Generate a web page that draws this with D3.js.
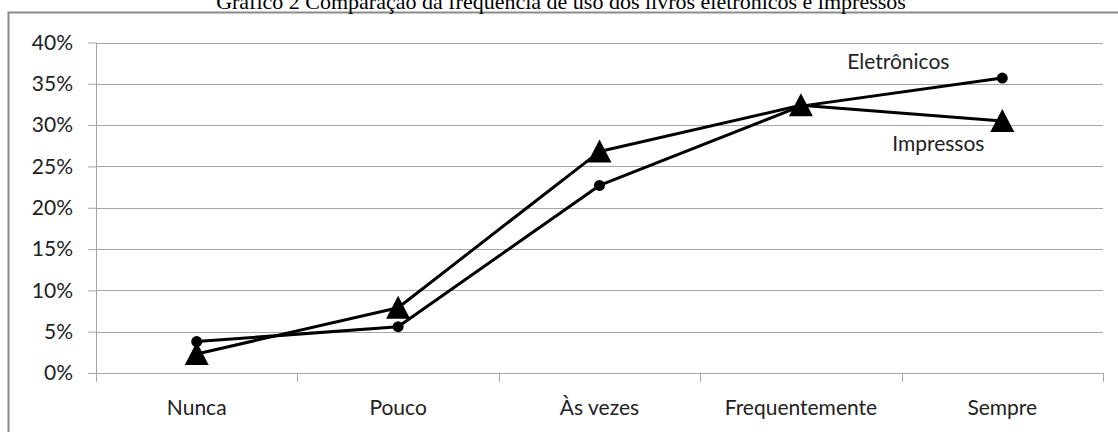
<!DOCTYPE html>
<meta charset="utf-8">
<style>
  body { margin: 0; background: #fff; }
  svg { display: block; }
  text { font-family: Lato, "Open Sans", sans-serif; fill: #222; }
</style>
<svg width="1118" height="432"></svg>
<script src="https://d3js.org/d3.v7.min.js"></script>
<script>

var categories = ["Nunca", "Pouco", "Às vezes", "Frequentemente", "Sempre"];
var eletronicos = [0.038, 0.056, 0.227, 0.323, 0.357];
var impressos = [0.023, 0.079, 0.268, 0.324, 0.305];
var yTicks = [0, 0.05, 0.10, 0.15, 0.20, 0.25, 0.30, 0.35, 0.40];
var title = "Gráfico 2 Comparação da frequência de uso dos livros eletrônicos e impressos";

var svg = d3.select("svg"),
    margin = {top: 42.5, right: 15, bottom: 59, left: 96},
    width = +svg.attr("width"),
    height = +svg.attr("height");

var x = d3.scaleBand()
    .domain(categories)
    .range([margin.left, width - margin.right])
    .padding(0);

var y = d3.scaleLinear()
    .domain([0, 0.4])
    .range([height - margin.bottom, margin.top]);

// outer frame of the chart object
svg.append("rect")
    .attr("x", 8.5)
    .attr("y", 12.5)
    .attr("width", 1130)
    .attr("height", 440)
    .attr("fill", "none")
    .attr("stroke", "#8c8c8c")
    .attr("stroke-width", 2);

svg.append("text")
    .attr("x", 561)
    .attr("y", 9)
    .attr("text-anchor", "middle")
    .style("font-family", "'Liberation Serif', 'Times New Roman', serif")
    .style("font-size", "22px")
    .style("fill", "#000")
    .text(title);

// gridlines + y axis
var yAxis = svg.append("g")
    .attr("transform", "translate(" + margin.left + ",0)")
    .call(d3.axisLeft(y)
      .tickValues(yTicks)
      .tickFormat(d3.format(".0%"))
      .tickSize(8)
      .tickPadding(15));

yAxis.select(".domain").remove();
yAxis.selectAll(".tick line").attr("stroke", "#a6a6a6");
yAxis.selectAll(".tick text")
    .style("font-size", "21px")
    .style("font-family", "Lato, 'Open Sans', sans-serif")
    .attr("fill", "#222");

svg.append("g")
  .selectAll("line")
  .data(yTicks)
  .join("line")
    .attr("x1", margin.left)
    .attr("x2", width - margin.right)
    .attr("y1", function(d) { return Math.round(y(d)) + 0.5; })
    .attr("y2", function(d) { return Math.round(y(d)) + 0.5; })
    .attr("stroke", "#a6a6a6");

svg.append("line")
    .attr("x1", margin.left + 0.5)
    .attr("x2", margin.left + 0.5)
    .attr("y1", y(0.4))
    .attr("y2", y(0) + 9)
    .attr("stroke", "#a6a6a6");

// x axis: ticks sit between categories
var bounds = categories.map(function(c) { return x(c); }).concat([x.range()[1]]);
svg.append("g")
  .selectAll("line")
  .data(bounds)
  .join("line")
    .attr("x1", function(d) { return Math.round(d) + 0.5; })
    .attr("x2", function(d) { return Math.round(d) + 0.5; })
    .attr("y1", y(0))
    .attr("y2", y(0) + 9)
    .attr("stroke", "#a6a6a6");

svg.append("g")
  .selectAll("text")
  .data(categories)
  .join("text")
    .attr("x", function(d) { return x(d) + x.bandwidth() / 2; })
    .attr("y", y(0) + 42)
    .attr("text-anchor", "middle")
    .style("font-size", "21px")
    .text(function(d) { return d; });

var line = d3.line()
    .x(function(d, i) { return x(categories[i]) + x.bandwidth() / 2; })
    .y(function(d) { return y(d); });

[eletronicos, impressos].forEach(function(s) {
  svg.append("path")
      .datum(s)
      .attr("fill", "none")
      .attr("stroke", "#000")
      .attr("stroke-width", 3)
      .attr("stroke-linejoin", "round")
      .attr("d", line);
});

svg.append("g")
  .selectAll("circle")
  .data(eletronicos)
  .join("circle")
    .attr("cx", function(d, i) { return x(categories[i]) + x.bandwidth() / 2; })
    .attr("cy", function(d) { return y(d); })
    .attr("r", 5.5)
    .attr("fill", "#000");

// triangles centred on their bounding box, like the spreadsheet markers
svg.append("g")
  .selectAll("path")
  .data(impressos)
  .join("path")
    .attr("transform", function(d, i) {
      return "translate(" + (x(categories[i]) + x.bandwidth() / 2) + "," + y(d) + ")";
    })
    .attr("d", "M0,-12L12,11L-12,11Z")
    .attr("fill", "#000");

svg.append("text")
    .attr("x", x("Sempre") + x.bandwidth() / 2 - 104)
    .attr("y", 69)
    .attr("text-anchor", "middle")
    .style("font-size", "21px")
    .text("Eletrônicos");

svg.append("text")
    .attr("x", x("Sempre") + x.bandwidth() / 2 - 64)
    .attr("y", 151)
    .attr("text-anchor", "middle")
    .style("font-size", "21px")
    .text("Impressos");

</script>
